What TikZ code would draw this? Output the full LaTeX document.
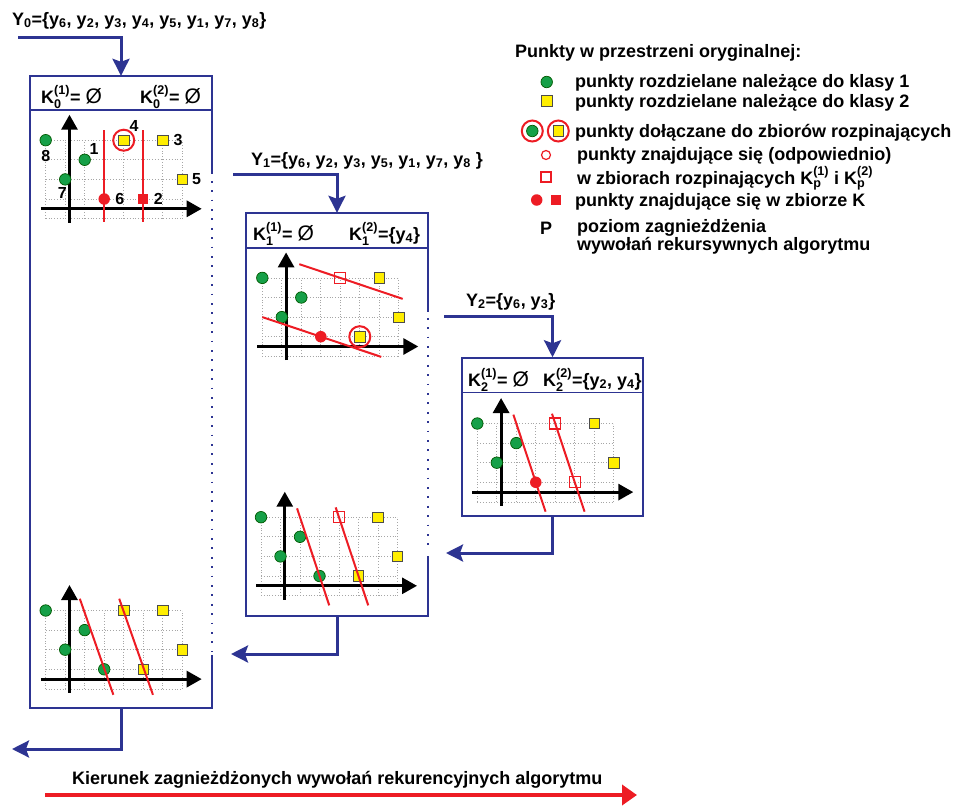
\documentclass[tikz,border=0pt]{standalone}
\usepackage{amsmath}
\usepackage{fontspec}
\setmainfont{Liberation Sans}
\usetikzlibrary{arrows.meta, positioning, calc}

\definecolor{navy}{RGB}{45,52,146}
\definecolor{ptred}{RGB}{237,28,36}
\definecolor{ptgreen}{RGB}{22,160,72}
\definecolor{ptyellow}{RGB}{255,238,0}

\newcommand{\lo}[1]{$_{\text{#1}}$}
\newcommand{\Kset}[2]{K$_{\text{#1}}^{\text{(#2)}}$}
\newcommand{\nul}{{\mdseries\fontsize{21}{21}\selectfont Ø}}
\newcommand{\plotbase}{%
  \draw[gridline, step=1] (0,-1) grid (7,3);
  \draw[axis] (-0.25,-0.5) -- (8,-0.5);
  \draw[axis] (1.22,-1.2) -- (1.22,4.3);}

\begin{document}
\begin{tikzpicture}[
    x=1pt, y=-1pt,
    font=\bfseries\fontsize{18}{21}\selectfont,
    txt/.style={inner sep=0pt, anchor=base west},
    num/.style={inner sep=0pt, font=\bfseries\fontsize{16}{18}\selectfont},
    panel/.style={rectangle, inner sep=0pt},
    frame/.style={draw=navy, line width=1.5pt},
    dotline/.style={draw=navy, line width=1.8pt, dash pattern=on 1.8pt off 7.6pt},
    flow/.style={draw=navy, line width=3pt, -{Stealth[length=17pt, width=17pt, inset=3pt]}},
    gridline/.style={draw=gray!70, line width=0.8pt, dash pattern=on 0.8pt off 2pt},
    axis/.style={draw=black, line width=3pt, -{Triangle[length=15pt, width=16pt]}},
    cut/.style={draw=ptred, line width=2pt},
    cls1/.style={circle, fill=ptgreen, draw=green!35!black, line width=0.7pt, minimum size=11.5pt, inner sep=0pt},
    cls2/.style={rectangle, fill=ptyellow, draw=black!70, line width=0.7pt, minimum size=10.5pt, inner sep=0pt},
    inkc/.style={circle, fill=ptred, minimum size=11.5pt, inner sep=0pt},
    inks/.style={rectangle, fill=ptred, minimum size=10.5pt, inner sep=0pt},
    spn/.style={rectangle, draw=ptred, line width=1.2pt, minimum size=11pt, inner sep=0pt},
    ring/.style={circle, draw=ptred, line width=2pt, minimum size=21pt, inner sep=0pt},
    dirarrow/.style={draw=ptred, line width=4pt, -{Triangle[length=15pt, width=20pt]}}
]

\useasboundingbox (0,0) rectangle (956,806);

\node[panel, minimum width=182pt, minimum height=632pt] (p0) at (121,392) {};
\node[panel, minimum width=182pt, minimum height=403pt] (p1) at (337,414.5) {};
\node[panel, frame, minimum width=181pt, minimum height=158pt] (p2) at (552.5,437) {};

\draw[frame] ($(p0.north east)+(0,98)$) |- (p0.north west) -- (p0.south west) -| ($(p0.south east)+(0,-53)$);
\draw[dotline] ($(p0.north east)+(0,105)$) -- ($(p0.south east)+(0,-57)$);
\draw[frame] ($(p0.north west)+(0,34)$) -- ($(p0.north east)+(0,34)$);

\draw[frame] ($(p1.north east)+(0,99)$) |- (p1.north west) -- (p1.south west) -| ($(p1.south east)+(0,-60)$);
\draw[dotline] ($(p1.north east)+(0,105)$) -- ($(p1.south east)+(0,-64)$);
\draw[frame] ($(p1.north west)+(0,35)$) -- ($(p1.north east)+(0,35)$);

\draw[frame] ($(p2.north west)+(0,35)$) -- ($(p2.north east)+(0,35)$);

\node[txt] (h0a) at (41,103) {\Kset{0}{1}= \nul};
\node[txt] (h0b) at (140,103) {\Kset{0}{2}= \nul};
\node[txt] (h1a) at (253,240) {\Kset{1}{1}= \nul};
\node[txt] (h1b) at (349,240) {\Kset{1}{2}=\{y\lo{4}\}};
\node[txt] (h2a) at (468,386) {\Kset{2}{1}= \nul};
\node[txt] (h2b) at (543,386) {\Kset{2}{2}=\{y\lo{2}, y\lo{4}\}};

\node[txt] (y0set) at (12,25) {Y\lo{0}=\{y\lo{6}, y\lo{2}, y\lo{3}, y\lo{4}, y\lo{5}, y\lo{1}, y\lo{7}, y\lo{8}\}};
\node[txt] (y1set) at (251,165) {Y\lo{1}=\{y\lo{6}, y\lo{2}, y\lo{3}, y\lo{5}, y\lo{1}, y\lo{7}, y\lo{8} \}};
\node[txt] (y2set) at (466,306) {Y\lo{2}=\{y\lo{6}, y\lo{3}\}};

\coordinate (in0) at (18,37);
\coordinate (in1) at (233,174);
\coordinate (in2) at (444,316);
\coordinate (out2) at (446,553);
\coordinate (out1) at (231,654);
\coordinate (out0) at (12,749);

\draw[flow] (in0) -| (p0.north);
\draw[flow] (in1) -| (p1.north);
\draw[flow] (in2) -| (p2.north);
\draw[flow] (p2.south) |- (out2);
\draw[flow] (p1.south) |- (out1);
\draw[flow] (p0.south) |- (out0);

\begin{scope}[shift={(45.7,199)}, x=19.5pt, y=19.6pt]
  \plotbase
  \foreach \n/\px/\py/\st in {8/0/3/cls1, 1/2/2/cls1, 7/1/1/cls1, 6/3/0/inkc, 4/4/3/cls2, 3/6/3/cls2, 5/7/1/cls2, 2/5/0/inks}
    \node[\st] (a\n) at (\px,\py) {};
  \draw[cut] (3,3.5) -- (3,-1.15);
  \draw[cut] (5,3.5) -- (5,-1.15);
  \node[ring] (a4r) at (a4) {};
  \node[num, below=4pt of a8] (l8) {8};
  \node[num, above right=0.5pt and 0.5pt of a1] (l1) {1};
  \node[num, below=2pt of a7, xshift=-3pt] (l7) {7};
  \node[num, right=5pt of a6] (l6) {6};
  \node[num, above right=3pt and 0pt of a4] (l4) {4};
  \node[num, right=5pt of a3] (l3) {3};
  \node[num, right=4pt of a5] (l5) {5};
  \node[num, right=5pt of a2] (l2) {2};
\end{scope}

\begin{scope}[shift={(262.3,336.7)}, x=19.5pt, y=19.6pt]
  \plotbase
  \foreach \n/\px/\py/\st in {8/0/3/cls1, 1/2/2/cls1, 7/1/1/cls1, 6/3/0/inkc, 4/4/3/spn, 3/6/3/cls2, 5/7/1/cls2, 2/5/0/cls2}
    \node[\st] (b\n) at (\px,\py) {};
  \draw[cut] (0,1) -- (6.1,-1.03);
  \draw[cut] (1.9,3.7) -- (7.2,1.93);
  \node[ring] (b2r) at (b2) {};
\end{scope}

\begin{scope}[shift={(477.3,482.3)}, x=19.5pt, y=19.6pt]
  \plotbase
  \foreach \n/\px/\py/\st in {8/0/3/cls1, 1/2/2/cls1, 7/1/1/cls1, 6/3/0/inkc, 4/4/3/spn, 3/6/3/cls2, 5/7/1/cls2, 2/5/0/spn}
    \node[\st] (c\n) at (\px,\py) {};
  \draw[cut] (1.85,3.45) -- (3.5,-1.5);
  \draw[cut] (3.83,3.5) -- (5.5,-1.5);
\end{scope}

\begin{scope}[shift={(261,576)}, x=19.5pt, y=19.6pt]
  \plotbase
  \foreach \n/\px/\py/\st in {8/0/3/cls1, 1/2/2/cls1, 7/1/1/cls1, 6/3/0/cls1, 4/4/3/spn, 3/6/3/cls2, 5/7/1/cls2, 2/5/0/cls2}
    \node[\st] (d\n) at (\px,\py) {};
  \draw[cut] (1.85,3.45) -- (3.5,-1.5);
  \draw[cut] (3.83,3.5) -- (5.5,-1.5);
\end{scope}

\begin{scope}[shift={(45.7,669.3)}, x=19.5pt, y=19.6pt]
  \plotbase
  \foreach \n/\px/\py/\st in {8/0/3/cls1, 1/2/2/cls1, 7/1/1/cls1, 6/3/0/cls1, 4/4/3/cls2, 3/6/3/cls2, 5/7/1/cls2, 2/5/0/cls2}
    \node[\st] (e\n) at (\px,\py) {};
  \draw[cut] (1.75,3.6) -- (3.47,-1.3);
  \draw[cut] (3.77,3.6) -- (5.5,-1.3);
\end{scope}

\node[txt] (lgtitle) at (515,57) {Punkty w przestrzeni oryginalnej:};
\node[cls1] (lgc1) at (546.7,82) {};
\node[txt] (lgt1) at (575,87) {punkty rozdzielane należące do klasy 1};
\node[cls2] (lgc2) at (546.7,101) {};
\node[txt] (lgt2) at (575,107) {punkty rozdzielane należące do klasy 2};
\node[cls1] (lgc3) at (532.3,131) {};
\node[ring] (lgr3) at (lgc3) {};
\node[cls2] (lgc4) at (558.3,131) {};
\node[ring] (lgr4) at (lgc4) {};
\node[txt] (lgt3) at (575,137) {punkty dołączane do zbiorów rozpinających};
\node[circle, draw=ptred, line width=1.2pt, minimum size=9pt, inner sep=0pt] (lgc5) at (546,155) {};
\node[txt] (lgt4) at (577,160) {punkty znajdujące się (odpowiednio)};
\node[spn, minimum size=10pt] (lgc6) at (546,177) {};
\node[txt] (lgt5) at (577,184) {w zbiorach rozpinających \Kset{p}{1} i \Kset{p}{2}};
\node[inkc] (lgc7) at (536.7,200) {};
\node[inks] (lgc8) at (556,200) {};
\node[txt] (lgt6) at (575,206) {punkty znajdujące się w zbiorze K};
\node[txt] (lgp) at (540,234) {P};
\node[txt] (lgt7) at (577,232) {poziom zagnieżdżenia};
\node[txt] (lgt8) at (577,250) {wywołań rekursywnych algorytmu};

\coordinate (dirA) at (45,795);
\coordinate (dirB) at (637,795);
\draw[dirarrow] (dirA) -- (dirB);
\node[txt] (dirtext) at (72,784) {Kierunek zagnieżdżonych wywołań rekurencyjnych algorytmu};

\end{tikzpicture}
\end{document}
